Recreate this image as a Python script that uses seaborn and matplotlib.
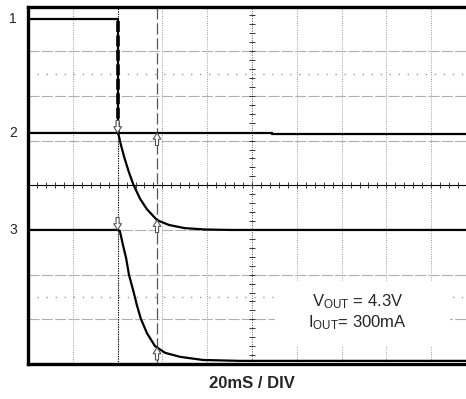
import numpy as np
import pandas as pd
import matplotlib as mpl
import matplotlib.pyplot as plt
from matplotlib.patches import Rectangle
import seaborn as sns

# ---------------- scope data (x in ms, 20 ms / div; y in divisions, 8 div tall) ----------------
ch1_time = [0, 40, 40, 109, 109, 200]
ch1_level = [7.72, 7.72, 5.17, 5.17, 5.14, 5.14]

ch2_time = [0, 40, 40.5, 41.5, 43, 45, 47, 50, 53, 57.6, 63, 70, 79, 90, 200]
ch2_level = [5.17, 5.17, 5.12, 4.90, 4.62, 4.30, 4.02, 3.70, 3.47, 3.22, 3.11, 3.04, 3.01, 3.0, 3.0]

ch3_time = [0, 40, 41, 42.4, 43.8, 45.1, 46.9, 48.7, 50.4, 53.1, 56.7, 61.2, 67.9, 78.1, 94.6, 200]
ch3_level = [3.0, 3.0, 2.98, 2.66, 2.37, 1.99, 1.66, 1.30, 1.01, 0.69, 0.40, 0.25, 0.16, 0.09, 0.07, 0.07]

channel_names = ["1", "2", "3"]
channel_marks = [7.72, 5.17, 3.0]

cursor_time = [40, 57.6]
cursor1_levels = [5.17, 3.0]
cursor2_levels = [5.17, 3.22, 0.37]

time_per_div = "20mS / DIV"
note_lines = [r"V$_{\mathrm{OUT}}$ = 4.3V", r"I$_{\mathrm{OUT}}$= 300mA"]

# ---------------- style ----------------
sns.set_style("white")
plt.rcParams["font.family"] = ["Liberation Sans", "DejaVu Sans"]
plt.rcParams["mathtext.fontset"] = "custom"
plt.rcParams["mathtext.rm"] = "Liberation Sans"
plt.rcParams["mathtext.it"] = "Liberation Sans:italic"

W, H = 466, 399
fig = plt.figure(figsize=(W / 100, H / 100), dpi=100)
# axes spans 10 div x 8 div; the right edge is cut off by the figure like the reference
ax = fig.add_axes([28 / W, (H - 364) / H, 448 / W, 357.5 / H])
ax.set_xlim(0, 200)
ax.set_ylim(0, 8)
ax.set_xticks([])
ax.set_yticks([])
for s in ax.spines.values():
    s.set_linewidth(2.4)
    s.set_color("black")

# graticule
for gx in range(20, 200, 20):
    if gx == 100:
        continue
    ax.axvline(gx, color="#777777", lw=0.6, ls=(0, (1, 1.8)), zorder=1)
for gy in [1, 2, 3, 5, 6, 7]:
    ax.axhline(gy, color="#b0b0b0", lw=0.8, ls=(0, (10, 2)), zorder=1)
for gy in [1.5, 6.5]:
    ax.axhline(gy, color="#999999", lw=1.0, ls=(0, (1, 5.5)), zorder=1)

# centre cross with minor ticks
ax.axhline(4, color="black", lw=0.8, zorder=1)
ax.axvline(100, color="#555555", lw=0.7, ls=(0, (1, 1.5)), zorder=1)
minor_x = np.arange(4, 200, 4)
minor_y = np.arange(0.2, 8, 0.2)
ax.scatter(minor_x, np.full_like(minor_x, 4.0, dtype=float), marker="|", s=14, lw=0.7,
           color="#333333", zorder=1)
ax.scatter(np.full_like(minor_y, 100.0), minor_y, marker="_", s=14, lw=0.7,
           color="#333333", zorder=1)

# white box behind the annotation
ax.add_patch(Rectangle((0.551, 0.048), 0.39, 0.18, transform=ax.transAxes,
                       facecolor="white", edgecolor="none", zorder=2))

# cursors
ax.axvline(cursor_time[0], color="black", lw=0.8, ls=(0, (1, 1.2)), zorder=2)
ax.axvline(cursor_time[1], color="#555555", lw=0.9, ls=(0, (9, 3)), zorder=2)

# traces
traces = pd.concat([
    pd.DataFrame({"t": ch1_time, "v": ch1_level, "ch": "1"}),
    pd.DataFrame({"t": ch2_time, "v": ch2_level, "ch": "2"}),
    pd.DataFrame({"t": ch3_time, "v": ch3_level, "ch": "3"}),
])
sns.lineplot(data=traces, x="t", y="v", units="ch", estimator=None, sort=False,
             color="black", lw=1.6, ax=ax, zorder=3, legend=False)
ax.vlines(ch1_time[1], ch1_level[2], ch1_level[1], color="black", lw=2.6,
          ls=(0, (3, 1)), zorder=3)
ax.set_xlabel("")
ax.set_ylabel("")

# cursor markers (small hollow arrows pointing at the trace)
arrow_style = dict(arrowstyle="simple,head_width=0.55,head_length=0.45,tail_width=0.22",
                   fc="white", ec="#555555", lw=0.8, shrinkA=0, shrinkB=0)
for lv in cursor1_levels:
    ax.annotate("", xy=(cursor_time[0], lv), xytext=(0, 9), textcoords="offset points",
                arrowprops=arrow_style, zorder=4)
for lv in cursor2_levels:
    ax.annotate("", xy=(cursor_time[1], lv), xytext=(0, -9), textcoords="offset points",
                arrowprops=arrow_style, zorder=4)

# channel labels
for name, lv in zip(channel_names, channel_marks):
    ax.text(-0.033, lv, name, transform=ax.get_yaxis_transform(), ha="center",
            va="center", fontsize=10, clip_on=False)

# annotation
ax.text(0.735, 0.174, note_lines[0], transform=ax.transAxes, ha="center", va="center",
        fontsize=12, zorder=4)
ax.text(0.735, 0.115, note_lines[1], transform=ax.transAxes, ha="center", va="center",
        fontsize=12, zorder=4)

fig.text(252 / W, 1 - 384 / H, time_per_div, ha="center", va="center",
         fontsize=12, fontweight="bold")

fig.savefig("out.png", dpi=100)
